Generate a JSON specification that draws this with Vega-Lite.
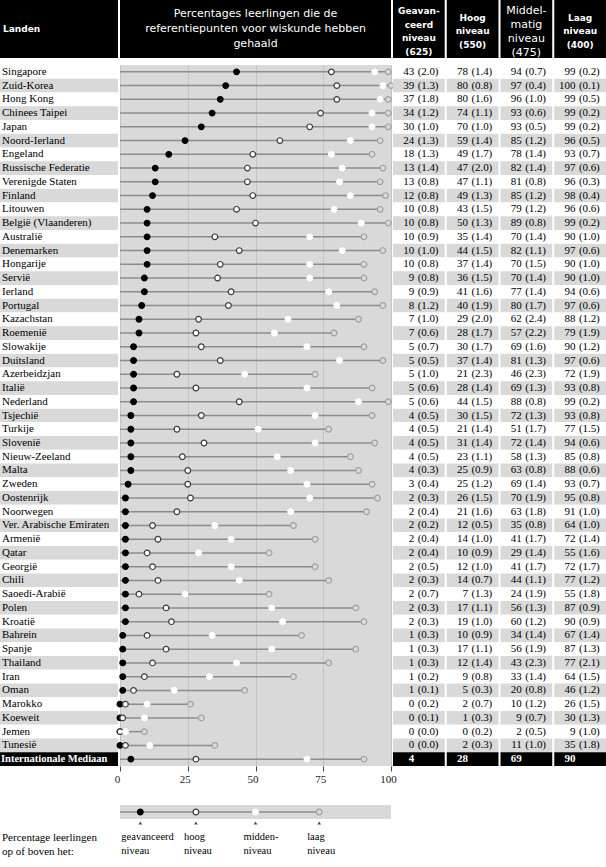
{
"$schema": "https://vega.github.io/schema/vega-lite/v6.json",
"padding": 0,
"background": "#ffffff",
"config": {"view": {"stroke": null}, "text": {"font": "Liberation Serif", "fontSize": 11, "color": "#000000"}},
"datasets": {
"scores": [
{"land":"Singapore","niveau":"geavanceerd","pct":43,"se":2.0},{"land":"Singapore","niveau":"hoog","pct":78,"se":1.4},{"land":"Singapore","niveau":"midden","pct":94,"se":0.7},{"land":"Singapore","niveau":"laag","pct":99,"se":0.2},
{"land":"Zuid-Korea","niveau":"geavanceerd","pct":39,"se":1.3},{"land":"Zuid-Korea","niveau":"hoog","pct":80,"se":0.8},{"land":"Zuid-Korea","niveau":"midden","pct":97,"se":0.4},{"land":"Zuid-Korea","niveau":"laag","pct":100,"se":0.1},
{"land":"Hong Kong","niveau":"geavanceerd","pct":37,"se":1.8},{"land":"Hong Kong","niveau":"hoog","pct":80,"se":1.6},{"land":"Hong Kong","niveau":"midden","pct":96,"se":1.0},{"land":"Hong Kong","niveau":"laag","pct":99,"se":0.5},
{"land":"Chinees Taipei","niveau":"geavanceerd","pct":34,"se":1.2},{"land":"Chinees Taipei","niveau":"hoog","pct":74,"se":1.1},{"land":"Chinees Taipei","niveau":"midden","pct":93,"se":0.6},{"land":"Chinees Taipei","niveau":"laag","pct":99,"se":0.2},
{"land":"Japan","niveau":"geavanceerd","pct":30,"se":1.0},{"land":"Japan","niveau":"hoog","pct":70,"se":1.0},{"land":"Japan","niveau":"midden","pct":93,"se":0.5},{"land":"Japan","niveau":"laag","pct":99,"se":0.2},
{"land":"Noord-Ierland","niveau":"geavanceerd","pct":24,"se":1.3},{"land":"Noord-Ierland","niveau":"hoog","pct":59,"se":1.4},{"land":"Noord-Ierland","niveau":"midden","pct":85,"se":1.2},{"land":"Noord-Ierland","niveau":"laag","pct":96,"se":0.5},
{"land":"Engeland","niveau":"geavanceerd","pct":18,"se":1.3},{"land":"Engeland","niveau":"hoog","pct":49,"se":1.7},{"land":"Engeland","niveau":"midden","pct":78,"se":1.4},{"land":"Engeland","niveau":"laag","pct":93,"se":0.7},
{"land":"Russische Federatie","niveau":"geavanceerd","pct":13,"se":1.4},{"land":"Russische Federatie","niveau":"hoog","pct":47,"se":2.0},{"land":"Russische Federatie","niveau":"midden","pct":82,"se":1.4},{"land":"Russische Federatie","niveau":"laag","pct":97,"se":0.6},
{"land":"Verenigde Staten","niveau":"geavanceerd","pct":13,"se":0.8},{"land":"Verenigde Staten","niveau":"hoog","pct":47,"se":1.1},{"land":"Verenigde Staten","niveau":"midden","pct":81,"se":0.8},{"land":"Verenigde Staten","niveau":"laag","pct":96,"se":0.3},
{"land":"Finland","niveau":"geavanceerd","pct":12,"se":0.8},{"land":"Finland","niveau":"hoog","pct":49,"se":1.3},{"land":"Finland","niveau":"midden","pct":85,"se":1.2},{"land":"Finland","niveau":"laag","pct":98,"se":0.4},
{"land":"Litouwen","niveau":"geavanceerd","pct":10,"se":0.8},{"land":"Litouwen","niveau":"hoog","pct":43,"se":1.5},{"land":"Litouwen","niveau":"midden","pct":79,"se":1.2},{"land":"Litouwen","niveau":"laag","pct":96,"se":0.6},
{"land":"België (Vlaanderen)","niveau":"geavanceerd","pct":10,"se":0.8},{"land":"België (Vlaanderen)","niveau":"hoog","pct":50,"se":1.3},{"land":"België (Vlaanderen)","niveau":"midden","pct":89,"se":0.8},{"land":"België (Vlaanderen)","niveau":"laag","pct":99,"se":0.2},
{"land":"Australië","niveau":"geavanceerd","pct":10,"se":0.9},{"land":"Australië","niveau":"hoog","pct":35,"se":1.4},{"land":"Australië","niveau":"midden","pct":70,"se":1.4},{"land":"Australië","niveau":"laag","pct":90,"se":1.0},
{"land":"Denemarken","niveau":"geavanceerd","pct":10,"se":1.0},{"land":"Denemarken","niveau":"hoog","pct":44,"se":1.5},{"land":"Denemarken","niveau":"midden","pct":82,"se":1.1},{"land":"Denemarken","niveau":"laag","pct":97,"se":0.6},
{"land":"Hongarije","niveau":"geavanceerd","pct":10,"se":0.8},{"land":"Hongarije","niveau":"hoog","pct":37,"se":1.4},{"land":"Hongarije","niveau":"midden","pct":70,"se":1.5},{"land":"Hongarije","niveau":"laag","pct":90,"se":1.0},
{"land":"Servië","niveau":"geavanceerd","pct":9,"se":0.8},{"land":"Servië","niveau":"hoog","pct":36,"se":1.5},{"land":"Servië","niveau":"midden","pct":70,"se":1.4},{"land":"Servië","niveau":"laag","pct":90,"se":1.0},
{"land":"Ierland","niveau":"geavanceerd","pct":9,"se":0.9},{"land":"Ierland","niveau":"hoog","pct":41,"se":1.6},{"land":"Ierland","niveau":"midden","pct":77,"se":1.4},{"land":"Ierland","niveau":"laag","pct":94,"se":0.6},
{"land":"Portugal","niveau":"geavanceerd","pct":8,"se":1.2},{"land":"Portugal","niveau":"hoog","pct":40,"se":1.9},{"land":"Portugal","niveau":"midden","pct":80,"se":1.7},{"land":"Portugal","niveau":"laag","pct":97,"se":0.6},
{"land":"Kazachstan","niveau":"geavanceerd","pct":7,"se":1.0},{"land":"Kazachstan","niveau":"hoog","pct":29,"se":2.0},{"land":"Kazachstan","niveau":"midden","pct":62,"se":2.4},{"land":"Kazachstan","niveau":"laag","pct":88,"se":1.2},
{"land":"Roemenië","niveau":"geavanceerd","pct":7,"se":0.6},{"land":"Roemenië","niveau":"hoog","pct":28,"se":1.7},{"land":"Roemenië","niveau":"midden","pct":57,"se":2.2},{"land":"Roemenië","niveau":"laag","pct":79,"se":1.9},
{"land":"Slowakije","niveau":"geavanceerd","pct":5,"se":0.7},{"land":"Slowakije","niveau":"hoog","pct":30,"se":1.7},{"land":"Slowakije","niveau":"midden","pct":69,"se":1.6},{"land":"Slowakije","niveau":"laag","pct":90,"se":1.2},
{"land":"Duitsland","niveau":"geavanceerd","pct":5,"se":0.5},{"land":"Duitsland","niveau":"hoog","pct":37,"se":1.4},{"land":"Duitsland","niveau":"midden","pct":81,"se":1.3},{"land":"Duitsland","niveau":"laag","pct":97,"se":0.6},
{"land":"Azerbeidzjan","niveau":"geavanceerd","pct":5,"se":1.0},{"land":"Azerbeidzjan","niveau":"hoog","pct":21,"se":2.3},{"land":"Azerbeidzjan","niveau":"midden","pct":46,"se":2.3},{"land":"Azerbeidzjan","niveau":"laag","pct":72,"se":1.9},
{"land":"Italië","niveau":"geavanceerd","pct":5,"se":0.6},{"land":"Italië","niveau":"hoog","pct":28,"se":1.4},{"land":"Italië","niveau":"midden","pct":69,"se":1.3},{"land":"Italië","niveau":"laag","pct":93,"se":0.8},
{"land":"Nederland","niveau":"geavanceerd","pct":5,"se":0.6},{"land":"Nederland","niveau":"hoog","pct":44,"se":1.5},{"land":"Nederland","niveau":"midden","pct":88,"se":0.8},{"land":"Nederland","niveau":"laag","pct":99,"se":0.2},
{"land":"Tsjechië","niveau":"geavanceerd","pct":4,"se":0.5},{"land":"Tsjechië","niveau":"hoog","pct":30,"se":1.5},{"land":"Tsjechië","niveau":"midden","pct":72,"se":1.3},{"land":"Tsjechië","niveau":"laag","pct":93,"se":0.8},
{"land":"Turkije","niveau":"geavanceerd","pct":4,"se":0.5},{"land":"Turkije","niveau":"hoog","pct":21,"se":1.4},{"land":"Turkije","niveau":"midden","pct":51,"se":1.7},{"land":"Turkije","niveau":"laag","pct":77,"se":1.5},
{"land":"Slovenië","niveau":"geavanceerd","pct":4,"se":0.5},{"land":"Slovenië","niveau":"hoog","pct":31,"se":1.4},{"land":"Slovenië","niveau":"midden","pct":72,"se":1.4},{"land":"Slovenië","niveau":"laag","pct":94,"se":0.6},
{"land":"Nieuw-Zeeland","niveau":"geavanceerd","pct":4,"se":0.5},{"land":"Nieuw-Zeeland","niveau":"hoog","pct":23,"se":1.1},{"land":"Nieuw-Zeeland","niveau":"midden","pct":58,"se":1.3},{"land":"Nieuw-Zeeland","niveau":"laag","pct":85,"se":0.8},
{"land":"Malta","niveau":"geavanceerd","pct":4,"se":0.3},{"land":"Malta","niveau":"hoog","pct":25,"se":0.9},{"land":"Malta","niveau":"midden","pct":63,"se":0.8},{"land":"Malta","niveau":"laag","pct":88,"se":0.6},
{"land":"Zweden","niveau":"geavanceerd","pct":3,"se":0.4},{"land":"Zweden","niveau":"hoog","pct":25,"se":1.2},{"land":"Zweden","niveau":"midden","pct":69,"se":1.4},{"land":"Zweden","niveau":"laag","pct":93,"se":0.7},
{"land":"Oostenrijk","niveau":"geavanceerd","pct":2,"se":0.3},{"land":"Oostenrijk","niveau":"hoog","pct":26,"se":1.5},{"land":"Oostenrijk","niveau":"midden","pct":70,"se":1.9},{"land":"Oostenrijk","niveau":"laag","pct":95,"se":0.8},
{"land":"Noorwegen","niveau":"geavanceerd","pct":2,"se":0.4},{"land":"Noorwegen","niveau":"hoog","pct":21,"se":1.6},{"land":"Noorwegen","niveau":"midden","pct":63,"se":1.8},{"land":"Noorwegen","niveau":"laag","pct":91,"se":1.0},
{"land":"Ver. Arabische Emiraten","niveau":"geavanceerd","pct":2,"se":0.2},{"land":"Ver. Arabische Emiraten","niveau":"hoog","pct":12,"se":0.5},{"land":"Ver. Arabische Emiraten","niveau":"midden","pct":35,"se":0.8},{"land":"Ver. Arabische Emiraten","niveau":"laag","pct":64,"se":1.0},
{"land":"Armenië","niveau":"geavanceerd","pct":2,"se":0.4},{"land":"Armenië","niveau":"hoog","pct":14,"se":1.0},{"land":"Armenië","niveau":"midden","pct":41,"se":1.7},{"land":"Armenië","niveau":"laag","pct":72,"se":1.4},
{"land":"Qatar","niveau":"geavanceerd","pct":2,"se":0.4},{"land":"Qatar","niveau":"hoog","pct":10,"se":0.9},{"land":"Qatar","niveau":"midden","pct":29,"se":1.4},{"land":"Qatar","niveau":"laag","pct":55,"se":1.6},
{"land":"Georgië","niveau":"geavanceerd","pct":2,"se":0.5},{"land":"Georgië","niveau":"hoog","pct":12,"se":1.0},{"land":"Georgië","niveau":"midden","pct":41,"se":1.7},{"land":"Georgië","niveau":"laag","pct":72,"se":1.7},
{"land":"Chili","niveau":"geavanceerd","pct":2,"se":0.3},{"land":"Chili","niveau":"hoog","pct":14,"se":0.7},{"land":"Chili","niveau":"midden","pct":44,"se":1.1},{"land":"Chili","niveau":"laag","pct":77,"se":1.2},
{"land":"Saoedi-Arabië","niveau":"geavanceerd","pct":2,"se":0.7},{"land":"Saoedi-Arabië","niveau":"hoog","pct":7,"se":1.3},{"land":"Saoedi-Arabië","niveau":"midden","pct":24,"se":1.9},{"land":"Saoedi-Arabië","niveau":"laag","pct":55,"se":1.8},
{"land":"Polen","niveau":"geavanceerd","pct":2,"se":0.3},{"land":"Polen","niveau":"hoog","pct":17,"se":1.1},{"land":"Polen","niveau":"midden","pct":56,"se":1.3},{"land":"Polen","niveau":"laag","pct":87,"se":0.9},
{"land":"Kroatië","niveau":"geavanceerd","pct":2,"se":0.3},{"land":"Kroatië","niveau":"hoog","pct":19,"se":1.0},{"land":"Kroatië","niveau":"midden","pct":60,"se":1.2},{"land":"Kroatië","niveau":"laag","pct":90,"se":0.9},
{"land":"Bahrein","niveau":"geavanceerd","pct":1,"se":0.3},{"land":"Bahrein","niveau":"hoog","pct":10,"se":0.9},{"land":"Bahrein","niveau":"midden","pct":34,"se":1.4},{"land":"Bahrein","niveau":"laag","pct":67,"se":1.4},
{"land":"Spanje","niveau":"geavanceerd","pct":1,"se":0.3},{"land":"Spanje","niveau":"hoog","pct":17,"se":1.1},{"land":"Spanje","niveau":"midden","pct":56,"se":1.9},{"land":"Spanje","niveau":"laag","pct":87,"se":1.3},
{"land":"Thailand","niveau":"geavanceerd","pct":1,"se":0.3},{"land":"Thailand","niveau":"hoog","pct":12,"se":1.4},{"land":"Thailand","niveau":"midden","pct":43,"se":2.3},{"land":"Thailand","niveau":"laag","pct":77,"se":2.1},
{"land":"Iran","niveau":"geavanceerd","pct":1,"se":0.2},{"land":"Iran","niveau":"hoog","pct":9,"se":0.8},{"land":"Iran","niveau":"midden","pct":33,"se":1.4},{"land":"Iran","niveau":"laag","pct":64,"se":1.5},
{"land":"Oman","niveau":"geavanceerd","pct":1,"se":0.1},{"land":"Oman","niveau":"hoog","pct":5,"se":0.3},{"land":"Oman","niveau":"midden","pct":20,"se":0.8},{"land":"Oman","niveau":"laag","pct":46,"se":1.2},
{"land":"Marokko","niveau":"geavanceerd","pct":0,"se":0.2},{"land":"Marokko","niveau":"hoog","pct":2,"se":0.7},{"land":"Marokko","niveau":"midden","pct":10,"se":1.2},{"land":"Marokko","niveau":"laag","pct":26,"se":1.5},
{"land":"Koeweit","niveau":"geavanceerd","pct":0,"se":0.1},{"land":"Koeweit","niveau":"hoog","pct":1,"se":0.3},{"land":"Koeweit","niveau":"midden","pct":9,"se":0.7},{"land":"Koeweit","niveau":"laag","pct":30,"se":1.3},
{"land":"Jemen","niveau":"geavanceerd","pct":0,"se":0.0},{"land":"Jemen","niveau":"hoog","pct":0,"se":0.2},{"land":"Jemen","niveau":"midden","pct":2,"se":0.5},{"land":"Jemen","niveau":"laag","pct":9,"se":1.0},
{"land":"Tunesië","niveau":"geavanceerd","pct":0,"se":0.0},{"land":"Tunesië","niveau":"hoog","pct":2,"se":0.3},{"land":"Tunesië","niveau":"midden","pct":11,"se":1.0},{"land":"Tunesië","niveau":"laag","pct":35,"se":1.8},
{"land":"Internationale Mediaan","niveau":"geavanceerd","pct":4,"se":null},{"land":"Internationale Mediaan","niveau":"hoog","pct":28,"se":null},{"land":"Internationale Mediaan","niveau":"midden","pct":69,"se":null},{"land":"Internationale Mediaan","niveau":"laag","pct":90,"se":null}
],
"legenda": [
{"niveau":"geavanceerd","pct":7.5,"label":"geavanceerd\nniveau"},
{"niveau":"hoog","pct":28,"label":"hoog\nniveau"},
{"niveau":"midden","pct":50,"label":"midden-\nniveau"},
{"niveau":"laag","pct":73.5,"label":"laag\nniveau"}
]
},
"data": {"name": "scores"},
"spacing": 21,
"vconcat": [
{"spacing": 2, "vconcat": [
 {"spacing": 2, "bounds": "flush", "hconcat": [
  {"width": 118, "height": 58, "view": {"fill": "#000000", "stroke": null},
   "data": {"values": [{"t": "Landen"}]},
   "mark": {"type": "text", "font": "DejaVu Sans", "fontSize": 9, "fontWeight": "bold", "color": "#ffffff", "align": "left", "baseline": "middle", "dx": 3},
   "encoding": {"x": {"datum": 0, "type": "quantitative", "scale": {"domain": [0, 1]}, "axis": null}, "y": {"datum": 0.5, "type": "quantitative", "scale": {"domain": [0, 1]}, "axis": null}, "text": {"field": "t", "type": "nominal"}}},
  {"width": 271, "height": 58, "view": {"fill": "#000000", "stroke": null},
   "data": {"values": [{"t": "Percentages leerlingen die de\nreferentiepunten voor wiskunde hebben\ngehaald"}]},
   "mark": {"type": "text", "font": "DejaVu Sans", "fontSize": 11, "color": "#ffffff", "lineBreak": "\n", "lineHeight": 15, "align": "center", "baseline": "middle", "dy": -15},
   "encoding": {"x": {"datum": 0.5, "type": "quantitative", "scale": {"domain": [0, 1]}, "axis": null}, "y": {"datum": 0.5, "type": "quantitative", "scale": {"domain": [0, 1]}, "axis": null}, "text": {"field": "t", "type": "nominal"}}},
  {"width": 213, "height": 58,
   "data": {"values": [{"niveau": "geavanceerd", "t": "Geavan-\nceerd\nniveau\n(625)"}, {"niveau": "hoog", "t": "Hoog\nniveau\n(550)"}, {"niveau": "midden", "t": "Middel-\nmatig\nniveau\n(475)"}, {"niveau": "laag", "t": "Laag\nniveau\n(400)"}]},
   "encoding": {"x": {"field": "niveau", "type": "nominal", "scale": {"type": "band", "domain": ["geavanceerd", "hoog", "midden", "laag"], "paddingInner": 0.0376, "paddingOuter": 0}, "axis": null}},
   "layer": [
    {"mark": {"type": "rect", "color": "#000000"},
     "encoding": {"y": {"datum": 0, "type": "quantitative", "scale": {"domain": [0, 1]}, "axis": null}, "y2": {"datum": 1}}},
    {"mark": {"type": "text", "font": "DejaVu Sans", "fontSize": 9, "fontWeight": "bold", "color": "#ffffff", "lineBreak": "\n", "lineHeight": 13.5, "baseline": "middle", "dy": -18},
     "encoding": {"y": {"datum": 0.5, "type": "quantitative"}, "text": {"field": "t", "type": "nominal"}, "opacity": {"condition": {"test": "datum.niveau === 'geavanceerd'", "value": 1}, "value": 0}}},
    {"mark": {"type": "text", "font": "DejaVu Sans", "fontSize": 9, "fontWeight": "bold", "color": "#ffffff", "lineBreak": "\n", "lineHeight": 13.5, "baseline": "middle", "dy": -11.5},
     "encoding": {"y": {"datum": 0.5, "type": "quantitative"}, "text": {"field": "t", "type": "nominal"}, "opacity": {"condition": {"test": "datum.niveau === 'hoog' || datum.niveau === 'laag'", "value": 1}, "value": 0}}},
    {"mark": {"type": "text", "font": "DejaVu Sans", "fontSize": 11, "color": "#ffffff", "lineBreak": "\n", "lineHeight": 14, "baseline": "middle", "dy": -18},
     "encoding": {"y": {"datum": 0.5, "type": "quantitative"}, "text": {"field": "t", "type": "nominal"}, "opacity": {"condition": {"test": "datum.niveau === 'midden'", "value": 1}, "value": 0}}}
   ]}
 ]},
 {"spacing": 2, "bounds": "flush", "hconcat": [
  {"width": 118, "height": 701,
   "transform": [{"filter": "datum.niveau === 'geavanceerd'"}, {"window": [{"op": "row_number", "as": "rij"}]}],
   "encoding": {"y": {"field": "land", "type": "nominal", "sort": null, "scale": {"type": "band", "paddingInner": 0, "paddingOuter": 0}, "axis": null}},
   "layer": [
    {"mark": {"type": "rect"},
     "encoding": {"x": {"datum": 0, "type": "quantitative", "scale": {"domain": [0, 1]}, "axis": null}, "x2": {"datum": 1},
      "fill": {"condition": [{"test": "datum.land === 'Internationale Mediaan'", "value": "#000000"}, {"test": "datum.rij % 2 === 0", "value": "#d9d9d9"}], "value": "#ffffff"}}},
    {"mark": {"type": "text", "align": "left", "baseline": "middle", "dx": 2},
     "encoding": {"x": {"datum": 0, "type": "quantitative"}, "text": {"field": "land", "type": "nominal"},
      "opacity": {"condition": {"test": "datum.land === 'Internationale Mediaan'", "value": 0}, "value": 1}}},
    {"mark": {"type": "text", "align": "left", "baseline": "middle", "dx": 1, "fontWeight": "bold", "color": "#ffffff", "fontSize": 10.5},
     "encoding": {"x": {"datum": 0, "type": "quantitative"}, "text": {"field": "land", "type": "nominal"},
      "opacity": {"condition": {"test": "datum.land === 'Internationale Mediaan'", "value": 1}, "value": 0}}}
   ]},
  {"width": 271, "height": 701, "view": {"fill": "#d9d9d9", "stroke": null},
   "encoding": {"y": {"field": "land", "type": "nominal", "sort": null, "scale": {"type": "band", "paddingInner": 0, "paddingOuter": 0}, "axis": null}},
   "layer": [
    {"mark": {"type": "rule", "color": "#8c8c8c", "strokeWidth": 1.5},
     "encoding": {"x": {"field": "pct", "type": "quantitative", "scale": {"domain": [0, 100], "nice": false}},
      "x2": {"datum": 0},
      "opacity": {"condition": {"test": "datum.niveau === 'laag'", "value": 1}, "value": 0}}},
    {"mark": {"type": "circle", "size": 32, "strokeWidth": 1.2, "opacity": 1},
     "encoding": {"x": {"field": "pct", "type": "quantitative", "scale": {"domain": [0, 100], "nice": false},
       "axis": {"values": [0, 25, 50, 75, 100], "grid": true, "gridColor": "#c4c4c4", "gridWidth": 1, "domain": false, "ticks": true, "tickColor": "#444444", "tickSize": 5, "labelFont": "Liberation Serif", "labelFontSize": 11, "labelColor": "#222222", "labelPadding": 2, "labelFlush": false, "labelOffset": -3, "title": null}},
      "fill": {"field": "niveau", "type": "nominal", "scale": {"domain": ["geavanceerd", "hoog", "midden", "laag"], "range": ["#000000", "#ffffff", "#ffffff", "#d9d9d9"]}, "legend": null},
      "stroke": {"field": "niveau", "type": "nominal", "scale": {"domain": ["geavanceerd", "hoog", "midden", "laag"], "range": ["#000000", "#3a3a3a", "#ffffff", "#a0a0a0"]}, "legend": null}}}
   ]},
  {"width": 213, "height": 701,
   "transform": [{"window": [{"op": "row_number", "as": "rij"}], "groupby": ["niveau"]}],
   "encoding": {
    "y": {"field": "land", "type": "nominal", "sort": null, "scale": {"type": "band", "paddingInner": 0, "paddingOuter": 0}, "axis": null},
    "x": {"field": "niveau", "type": "nominal", "scale": {"type": "band", "domain": ["geavanceerd", "hoog", "midden", "laag"], "paddingInner": 0.0376, "paddingOuter": 0}, "axis": null}},
   "layer": [
    {"mark": {"type": "rect"},
     "encoding": {"fill": {"condition": [{"test": "datum.land === 'Internationale Mediaan'", "value": "#000000"}, {"test": "datum.rij % 2 === 0", "value": "#d9d9d9"}], "value": "#ffffff"}}},
    {"mark": {"type": "text", "align": "right", "baseline": "middle"},
     "encoding": {"x": {"field": "niveau", "type": "nominal", "bandPosition": 0.41}, "text": {"field": "pct", "type": "quantitative"},
      "opacity": {"condition": {"test": "datum.land === 'Internationale Mediaan'", "value": 0}, "value": 1}}},
    {"mark": {"type": "text", "align": "right", "baseline": "middle", "fontWeight": "bold", "color": "#ffffff"},
     "encoding": {"x": {"field": "niveau", "type": "nominal", "bandPosition": 0.41}, "text": {"field": "pct", "type": "quantitative"},
      "opacity": {"condition": {"test": "datum.land === 'Internationale Mediaan'", "value": 1}, "value": 0}}},
    {"mark": {"type": "text", "align": "left", "baseline": "middle", "text": "(", "dx": 3.5},
     "encoding": {"x": {"field": "niveau", "type": "nominal", "bandPosition": 0.41},
      "opacity": {"condition": {"test": "datum.land === 'Internationale Mediaan'", "value": 0}, "value": 1}}},
    {"mark": {"type": "text", "align": "left", "baseline": "middle", "dx": 7},
     "encoding": {"x": {"field": "niveau", "type": "nominal", "bandPosition": 0.41}, "text": {"field": "se", "type": "quantitative", "format": ".1f"},
      "opacity": {"condition": {"test": "datum.land === 'Internationale Mediaan'", "value": 0}, "value": 1}}},
    {"mark": {"type": "text", "align": "left", "baseline": "middle", "text": ")", "dx": 20.5},
     "encoding": {"x": {"field": "niveau", "type": "nominal", "bandPosition": 0.41},
      "opacity": {"condition": {"test": "datum.land === 'Internationale Mediaan'", "value": 0}, "value": 1}}}
   ]}
 ]}
]},
{"spacing": 2, "bounds": "flush", "hconcat": [
 {"width": 118, "height": 14,
  "data": {"values": [{"t": "Percentage leerlingen\nop of boven het:"}]},
  "mark": {"type": "text", "align": "left", "baseline": "top", "dx": 2, "dy": 20, "lineBreak": "\n", "lineHeight": 14},
  "encoding": {"x": {"datum": 0, "type": "quantitative", "scale": {"domain": [0, 1]}, "axis": null}, "y": {"datum": 0, "type": "quantitative", "scale": {"domain": [-1, 1]}, "axis": null}, "text": {"field": "t", "type": "nominal"}}},
 {"width": 271, "height": 14, "view": {"fill": "#d9d9d9", "stroke": null},
  "data": {"name": "legenda"},
  "encoding": {"y": {"datum": 0, "type": "quantitative", "scale": {"domain": [-1, 1]}, "axis": null}},
  "layer": [
   {"mark": {"type": "rule", "color": "#8c8c8c", "strokeWidth": 1.5},
    "encoding": {"x": {"field": "pct", "type": "quantitative", "scale": {"domain": [0, 100], "nice": false}, "axis": null},
     "x2": {"datum": 0},
     "opacity": {"condition": {"test": "datum.niveau === 'laag'", "value": 1}, "value": 0}}},
   {"mark": {"type": "circle", "size": 32, "strokeWidth": 1.2, "opacity": 1},
    "encoding": {"x": {"field": "pct", "type": "quantitative", "scale": {"domain": [0, 100], "nice": false}, "axis": null},
     "fill": {"field": "niveau", "type": "nominal", "scale": {"domain": ["geavanceerd", "hoog", "midden", "laag"], "range": ["#000000", "#ffffff", "#ffffff", "#d9d9d9"]}, "legend": null},
     "stroke": {"field": "niveau", "type": "nominal", "scale": {"domain": ["geavanceerd", "hoog", "midden", "laag"], "range": ["#000000", "#3a3a3a", "#ffffff", "#a0a0a0"]}, "legend": null}}},
   {"mark": {"type": "point", "shape": "triangle-up", "filled": true, "color": "#000000", "size": 14, "yOffset": 11},
    "encoding": {"x": {"field": "pct", "type": "quantitative"}}},
   {"mark": {"type": "text", "align": "left", "baseline": "top", "dx": -19, "dy": 20, "lineBreak": "\n", "lineHeight": 14, "fontSize": 10.5},
    "encoding": {"x": {"field": "pct", "type": "quantitative"}, "text": {"field": "label", "type": "nominal"},
     "opacity": {"condition": {"test": "datum.niveau === 'geavanceerd'", "value": 1}, "value": 0}}},
   {"mark": {"type": "text", "align": "left", "baseline": "top", "dx": -12, "dy": 20, "lineBreak": "\n", "lineHeight": 14, "fontSize": 10.5},
    "encoding": {"x": {"field": "pct", "type": "quantitative"}, "text": {"field": "label", "type": "nominal"},
     "opacity": {"condition": {"test": "datum.niveau === 'geavanceerd'", "value": 0}, "value": 1}}}
  ]}
]}
]
}
